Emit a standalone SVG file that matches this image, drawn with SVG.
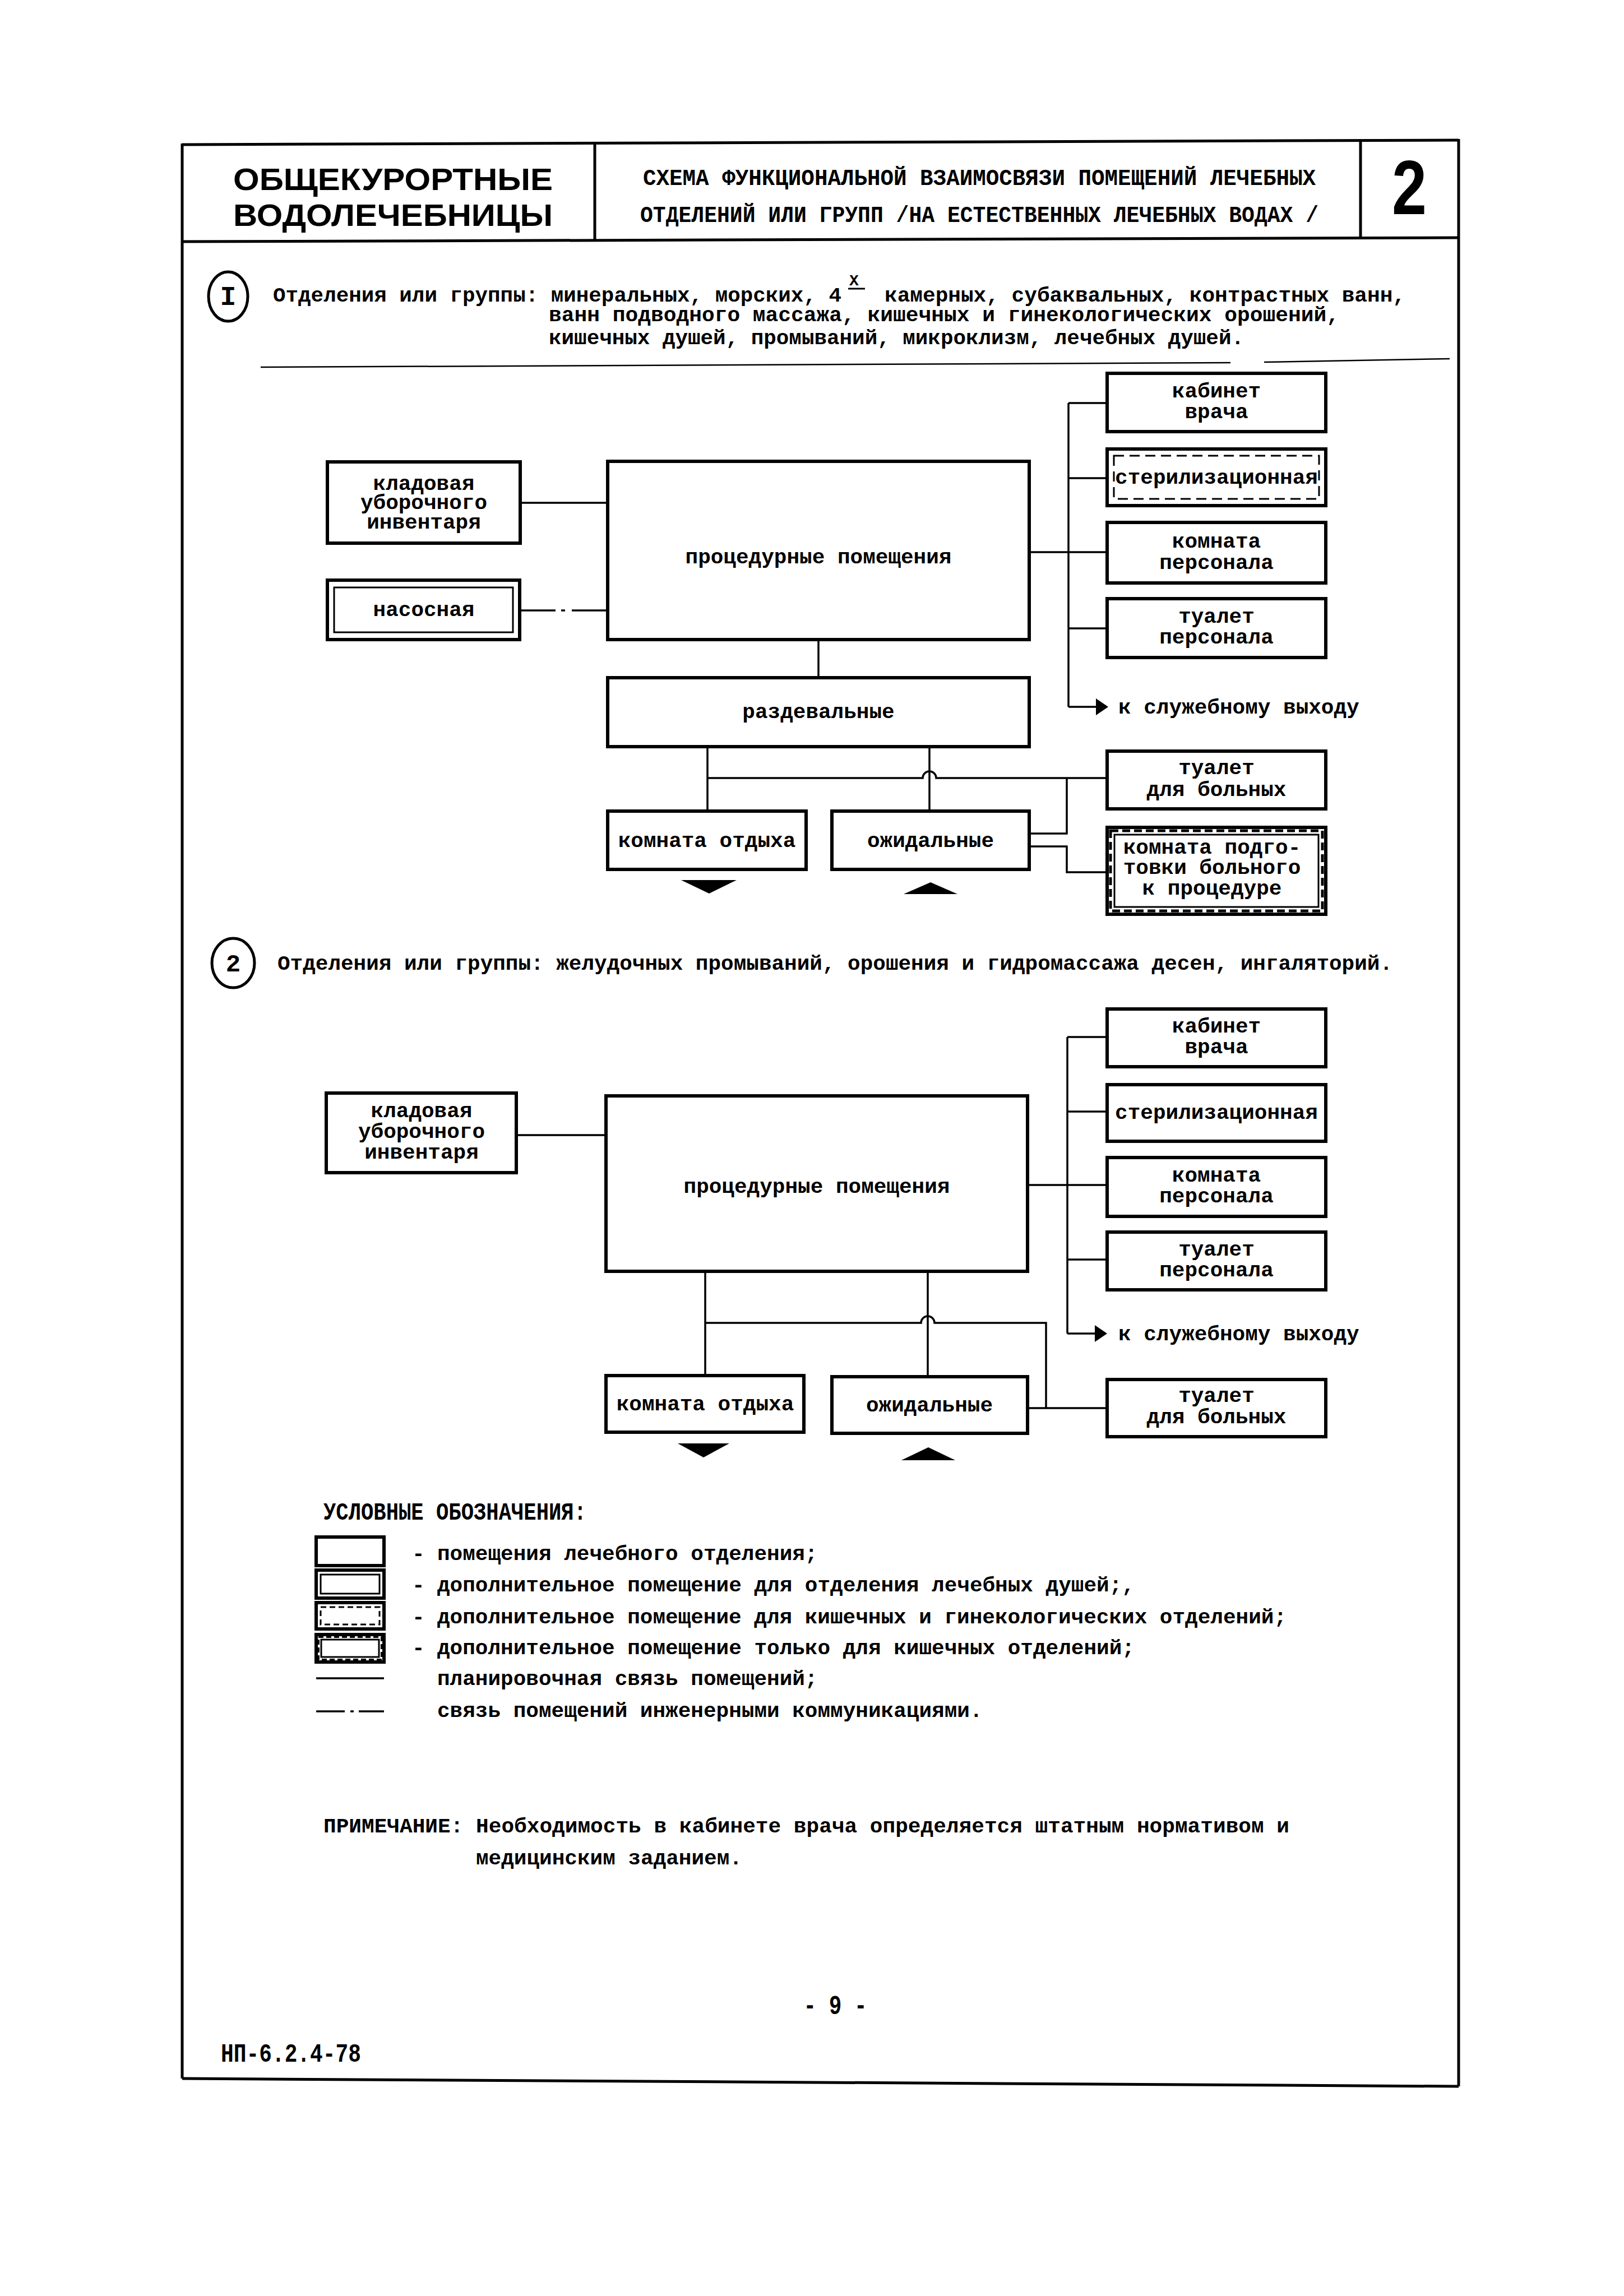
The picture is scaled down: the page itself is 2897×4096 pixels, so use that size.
<svg xmlns="http://www.w3.org/2000/svg" width="2897" height="4096" viewBox="0 0 2897 4096">
<style>
.bx{fill:#fff;stroke:#000;stroke-width:6}
.in{fill:none;stroke:#000;stroke-width:3}
.dsh{fill:none;stroke:#000;stroke-width:3;stroke-dasharray:18 10}
.hat{fill:none;stroke:#000;stroke-width:5;stroke-dasharray:14 7}
.ln{fill:none;stroke:#000;stroke-width:3.5}
.fr{fill:none;stroke:#000;stroke-width:5}
.t{font-family:"Liberation Mono","DejaVu Sans Mono",monospace;font-weight:bold;font-size:37.7px;fill:#000}
.c{text-anchor:middle}
.tri{fill:#000}
</style>
<rect x="0" y="0" width="2897" height="4096" fill="#fff"/>
<g id="frame">
<line class="fr" x1="325" y1="258" x2="2602" y2="250"/>
<line class="fr" x1="325" y1="431" x2="2602" y2="424"/>
<line class="fr" x1="325" y1="256" x2="325" y2="3708"/>
<line class="fr" x1="2602" y1="248" x2="2602" y2="3722"/>
<line class="fr" x1="325" y1="3708" x2="2602" y2="3722"/>
<line class="fr" x1="1061" y1="256" x2="1061" y2="430"/>
<line class="fr" x1="2427" y1="252" x2="2427" y2="425"/>
</g>
<g id="header">
<text x="701" y="339" text-anchor="middle" font-family="'Liberation Sans',Arial,sans-serif" font-weight="bold" font-size="56" textLength="570" lengthAdjust="spacingAndGlyphs">ОБЩЕКУРОРТНЫЕ</text>
<text x="701" y="403" text-anchor="middle" font-family="'Liberation Sans',Arial,sans-serif" font-weight="bold" font-size="56" textLength="570" lengthAdjust="spacingAndGlyphs">ВОДОЛЕЧЕБНИЦЫ</text>
<text class="t c" x="1747" y="330" style="font-size:40px" textLength="1200" lengthAdjust="spacingAndGlyphs">СХЕМА ФУНКЦИОНАЛЬНОЙ ВЗАИМОСВЯЗИ ПОМЕЩЕНИЙ ЛЕЧЕБНЫХ</text>
<text class="t c" x="1747" y="396" style="font-size:40px" textLength="1210" lengthAdjust="spacingAndGlyphs">ОТДЕЛЕНИЙ ИЛИ ГРУПП /НА ЕСТЕСТВЕННЫХ ЛЕЧЕБНЫХ ВОДАХ /</text>
<text x="2514" y="382" text-anchor="middle" font-family="'Liberation Sans',Arial,sans-serif" font-weight="bold" font-size="137" textLength="62" lengthAdjust="spacingAndGlyphs">2</text>
</g>
<g id="section1-title">
<ellipse cx="407" cy="529" rx="35" ry="44" fill="none" stroke="#000" stroke-width="5"/>
<text class="t c" x="407" y="544" style="font-size:48px">I</text>
<text class="t" x="487" y="538" textLength="1014" lengthAdjust="spacingAndGlyphs">Отделения или группы: минеральных, морских, 4</text>
<text class="t" x="1515" y="509" style="font-size:28px">X</text>
<line x1="1513" y1="515" x2="1543" y2="515" stroke="#000" stroke-width="3"/>
<text class="t" x="1578" y="538" textLength="929" lengthAdjust="spacingAndGlyphs">камерных, субаквальных, контрастных ванн,</text>
<text class="t" x="979" y="573" textLength="1410" lengthAdjust="spacingAndGlyphs">ванн подводного массажа, кишечных и гинекологических орошений,</text>
<text class="t" x="979" y="614" textLength="1240" lengthAdjust="spacingAndGlyphs">кишечных душей, промываний, микроклизм, лечебных душей.</text>
<line x1="465" y1="655" x2="2195" y2="647" stroke="#000" stroke-width="2.5"/>
<line x1="2255" y1="646" x2="2586" y2="640" stroke="#000" stroke-width="2.5"/>
</g>
<g id="connectors">
<line class="ln" x1="928" y1="897" x2="1084" y2="897"/>
<line class="ln" x1="928" y1="1089" x2="991" y2="1089"/>
<line class="ln" x1="1001" y1="1089" x2="1008" y2="1089"/>
<line class="ln" x1="1020" y1="1089" x2="1084" y2="1089"/>
<line class="ln" x1="1836" y1="985" x2="1906" y2="985"/>
<line class="ln" x1="1906" y1="719" x2="1906" y2="1261"/>
<line class="ln" x1="1906" y1="719" x2="1975" y2="719"/>
<line class="ln" x1="1906" y1="853" x2="1975" y2="853"/>
<line class="ln" x1="1906" y1="985" x2="1975" y2="985"/>
<line class="ln" x1="1906" y1="1121" x2="1975" y2="1121"/>
<line class="ln" x1="1906" y1="1261" x2="1958" y2="1261"/>
<polygon class="tri" points="1955,1246 1977,1261 1955,1276"/>
<line class="ln" x1="1460" y1="1141" x2="1460" y2="1209"/>
<line class="ln" x1="1262" y1="1332" x2="1262" y2="1447"/>
<line class="ln" x1="1658" y1="1332" x2="1658" y2="1447"/>
<path class="ln" d="M1262 1388 H1646 A12 12 0 0 1 1670 1388 H1975"/>
<path class="ln" d="M1836 1487 H1903 V1388"/>
<path class="ln" d="M1836 1510 H1903 V1556 H1975"/>
<polygon class="tri" points="1215,1570 1314,1570 1265,1594"/>
<polygon class="tri" points="1612,1595 1708,1595 1660,1574"/>
<line class="ln" x1="921" y1="2025" x2="1081" y2="2025"/>
<line class="ln" x1="1833" y1="2114" x2="1904" y2="2114"/>
<line class="ln" x1="1904" y1="1850" x2="1904" y2="2379"/>
<line class="ln" x1="1904" y1="1850" x2="1975" y2="1850"/>
<line class="ln" x1="1904" y1="1983" x2="1975" y2="1983"/>
<line class="ln" x1="1904" y1="2114" x2="1975" y2="2114"/>
<line class="ln" x1="1904" y1="2247" x2="1975" y2="2247"/>
<line class="ln" x1="1904" y1="2379" x2="1956" y2="2379"/>
<polygon class="tri" points="1953,2364 1975,2379 1953,2394"/>
<line class="ln" x1="1258" y1="2268" x2="1258" y2="2454"/>
<line class="ln" x1="1655" y1="2268" x2="1655" y2="2456"/>
<path class="ln" d="M1258 2360 H1643 A12 12 0 0 1 1667 2360 H1866 V2512"/>
<line class="ln" x1="1833" y1="2512" x2="1975" y2="2512"/>
<polygon class="tri" points="1209,2575 1301,2575 1255,2600"/>
<polygon class="tri" points="1608,2605 1704,2605 1656,2582"/>
</g>
<g id="exit1"><text class="t" x="1995" y="1273">к служебному выходу</text></g>
<g id="exit2"><text class="t" x="1995" y="2391">к служебному выходу</text></g>
<g id="d1-kabinet"><rect class="bx" x="1975" y="666" width="390" height="104"/><text class="t c" x="2170" y="709">кабинет</text><text class="t c" x="2170" y="746">врача</text></g>
<g id="d1-steril"><rect class="bx" x="1975" y="801" width="390" height="101"/><rect class="dsh" x="1987" y="813" width="366" height="77"/><text class="t c" x="2170" y="863">стерилизационная</text></g>
<g id="d1-komnata-pers"><rect class="bx" x="1975" y="932" width="390" height="108"/><text class="t c" x="2170" y="977">комната</text><text class="t c" x="2170" y="1015">персонала</text></g>
<g id="d1-tualet-pers"><rect class="bx" x="1975" y="1068" width="390" height="105"/><text class="t c" x="2170" y="1111">туалет</text><text class="t c" x="2170" y="1148">персонала</text></g>
<g id="d1-kladovaya"><rect class="bx" x="584" y="824" width="344" height="145"/><text class="t c" x="756" y="874">кладовая</text><text class="t c" x="756" y="908">уборочного</text><text class="t c" x="756" y="943">инвентаря</text></g>
<g id="d1-nasosnaya"><rect class="bx" x="584" y="1035" width="343" height="106"/><rect class="in" x="596" y="1048" width="319" height="80"/><text class="t c" x="756" y="1099">насосная</text></g>
<g id="d1-procedurnye"><rect class="bx" x="1084" y="823" width="752" height="318"/><text class="t c" x="1460" y="1005">процедурные помещения</text></g>
<g id="d1-razdevalnye"><rect class="bx" x="1084" y="1209" width="752" height="123"/><text class="t c" x="1460" y="1281">раздевальные</text></g>
<g id="d1-otdyh"><rect class="bx" x="1084" y="1447" width="354" height="104"/><text class="t c" x="1261" y="1511">комната отдыха</text></g>
<g id="d1-ozhidalnye"><rect class="bx" x="1484" y="1447" width="352" height="104"/><text class="t c" x="1660" y="1511">ожидальные</text></g>
<g id="d1-tualet-bol"><rect class="bx" x="1975" y="1340" width="390" height="103"/><text class="t c" x="2170" y="1381">туалет</text><text class="t c" x="2170" y="1420">для больных</text></g>
<g id="d1-podgotovka"><rect class="bx" x="1975" y="1476" width="390" height="155"/><rect class="hat" x="1981" y="1482" width="378" height="143"/><rect class="in" x="1988" y="1489" width="364" height="129"/><text class="t c" x="2162" y="1523">комната подго-</text><text class="t c" x="2162" y="1559">товки больного</text><text class="t c" x="2162" y="1596">к процедуре</text></g>
<g id="section2-title">
<ellipse cx="416" cy="1718" rx="38" ry="44" fill="none" stroke="#000" stroke-width="5"/>
<text class="t c" x="416" y="1733" style="font-size:44px">2</text>
<text class="t" x="495" y="1730" textLength="1989" lengthAdjust="spacingAndGlyphs">Отделения или группы: желудочных промываний, орошения и гидромассажа десен, ингаляторий.</text>
</g>
<g id="d2-kabinet"><rect class="bx" x="1975" y="1800" width="390" height="103"/><text class="t c" x="2170" y="1842">кабинет</text><text class="t c" x="2170" y="1879">врача</text></g>
<g id="d2-steril"><rect class="bx" x="1975" y="1935" width="390" height="101"/><text class="t c" x="2170" y="1996">стерилизационная</text></g>
<g id="d2-komnata-pers"><rect class="bx" x="1975" y="2065" width="390" height="105"/><text class="t c" x="2170" y="2108">комната</text><text class="t c" x="2170" y="2145">персонала</text></g>
<g id="d2-tualet-pers"><rect class="bx" x="1975" y="2198" width="390" height="103"/><text class="t c" x="2170" y="2240">туалет</text><text class="t c" x="2170" y="2277">персонала</text></g>
<g id="d2-kladovaya"><rect class="bx" x="582" y="1950" width="339" height="142"/><text class="t c" x="752" y="1993">кладовая</text><text class="t c" x="752" y="2030">уборочного</text><text class="t c" x="752" y="2067">инвентаря</text></g>
<g id="d2-procedurnye"><rect class="bx" x="1081" y="1955" width="752" height="313"/><text class="t c" x="1457" y="2128">процедурные помещения</text></g>
<g id="d2-otdyh"><rect class="bx" x="1081" y="2454" width="353" height="101"/><text class="t c" x="1258" y="2516">комната отдыха</text></g>
<g id="d2-ozhidalnye"><rect class="bx" x="1484" y="2456" width="349" height="101"/><text class="t c" x="1658" y="2518">ожидальные</text></g>
<g id="d2-tualet-bol"><rect class="bx" x="1975" y="2461" width="390" height="102"/><text class="t c" x="2170" y="2501">туалет</text><text class="t c" x="2170" y="2539">для больных</text></g>
<g id="legend">
<text class="t" x="577" y="2711" style="font-size:44px" textLength="469" lengthAdjust="spacingAndGlyphs">УСЛОВНЫЕ ОБОЗНАЧЕНИЯ:</text>
<rect class="bx" x="564" y="2742" width="121" height="51"/>
<rect class="bx" x="564" y="2801" width="121" height="50"/><rect class="in" x="572" y="2809" width="105" height="34"/>
<rect class="bx" x="564" y="2859" width="121" height="47"/><rect fill="none" stroke="#000" stroke-width="3" stroke-dasharray="10 6" x="572" y="2867" width="105" height="31"/>
<rect class="bx" x="564" y="2916" width="121" height="49"/><rect fill="none" stroke="#000" stroke-width="4" stroke-dasharray="9 5" x="568" y="2920" width="113" height="41"/><rect class="in" x="573" y="2925" width="103" height="31"/>
<line class="ln" x1="564" y1="2994" x2="685" y2="2994"/>
<line class="ln" x1="564" y1="3053" x2="615" y2="3053"/>
<line class="ln" x1="625" y1="3053" x2="631" y2="3053"/>
<line class="ln" x1="640" y1="3053" x2="685" y2="3053"/>
<text class="t" x="735" y="2783">-</text><text class="t" x="780" y="2783">помещения лечебного отделения;</text>
<text class="t" x="735" y="2839">-</text><text class="t" x="780" y="2839">дополнительное помещение для отделения лечебных душей;,</text>
<text class="t" x="735" y="2896">-</text><text class="t" x="780" y="2896" textLength="1515" lengthAdjust="spacingAndGlyphs">дополнительное помещение для кишечных и гинекологических отделений;</text>
<text class="t" x="735" y="2951">-</text><text class="t" x="780" y="2951">дополнительное помещение только для кишечных отделений;</text>
<text class="t" x="780" y="3006">планировочная связь помещений;</text>
<text class="t" x="780" y="3063">связь помещений инженерными коммуникациями.</text>
</g>
<g id="note">
<text class="t" x="577" y="3269" textLength="1723" lengthAdjust="spacingAndGlyphs">ПРИМЕЧАНИЕ: Необходимость в кабинете врача определяется штатным нормативом и</text>
<text class="t" x="849" y="3326">медицинским заданием.</text>
</g>
<g id="footer">
<text class="t c" x="1490" y="3593" style="font-size:48px" textLength="113" lengthAdjust="spacingAndGlyphs">- 9 -</text>
<text class="t" x="394" y="3678" style="font-size:46px" textLength="250" lengthAdjust="spacingAndGlyphs">НП-6.2.4-78</text>
</g>
</svg>
